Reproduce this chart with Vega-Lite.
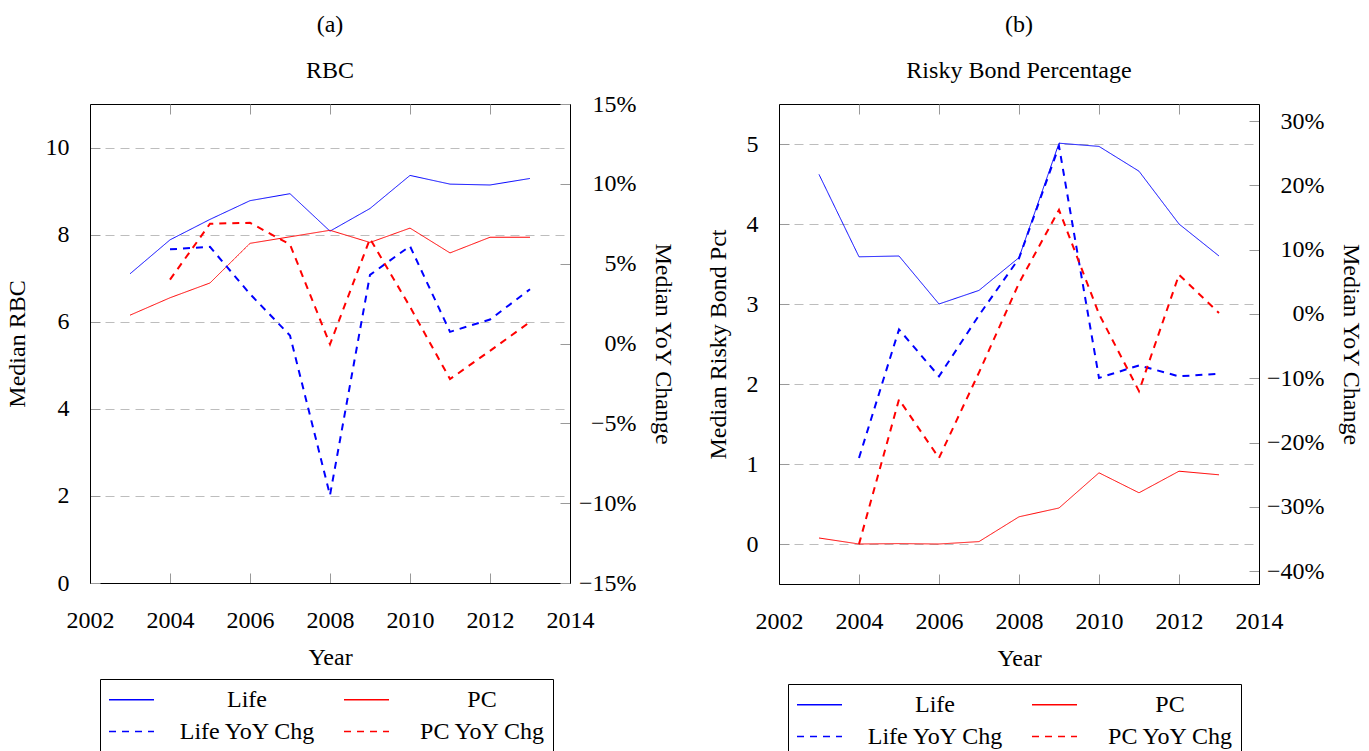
{
  "$schema": "https://vega.github.io/schema/vega-lite/v6.json",
  "padding": {"left": 4, "top": 12, "right": 0, "bottom": 0},
  "spacing": 30,
  "background": "#ffffff",
  "resolve": {"scale": {"color": "independent", "strokeDash": "independent"}, "legend": {"color": "independent", "strokeDash": "independent"}},
  "config": {
    "font": "Liberation Serif",
    "view": {"stroke": "#000000", "strokeWidth": 1},
    "axis": {
      "labelFont": "Liberation Serif", "labelFontSize": 24, "labelColor": "#000000",
      "titleFont": "Liberation Serif", "titleFontSize": 24, "titleFontWeight": "normal", "titleColor": "#000000",
      "domainColor": "#000000", "tickColor": "#999999", "tickSize": -10,
      "grid": false, "gridColor": "#bdbdbd", "gridDash": [9, 6], "labelFlush": false, "labelOverlap": false
    },
    "title": {
      "font": "Liberation Serif", "fontSize": 24, "fontWeight": "normal", "color": "#000000",
      "subtitleFont": "Liberation Serif", "subtitleFontSize": 24, "subtitleColor": "#000000",
      "anchor": "middle", "frame": "group"
    },
    "legend": {
      "labelFont": "Liberation Serif", "labelFontSize": 24, "labelColor": "#000000",
      "symbolType": "M-2,0H2", "symbolSize": 506, "symbolStrokeWidth": 1.6, "symbolOffset": 11,
      "strokeColor": "#000000", "fillColor": "#ffffff", "padding": 8, "rowPadding": 7, "columnPadding": 24,
      "labelAlign": "center", "labelOffset": 103, "labelLimit": 300
    }
  },
  "datasets": {
    "rbc_level": [
      {"year": 2003, "series": "Life", "value": 7.10}, {"year": 2004, "series": "Life", "value": 7.88},
      {"year": 2005, "series": "Life", "value": 8.35}, {"year": 2006, "series": "Life", "value": 8.78},
      {"year": 2007, "series": "Life", "value": 8.94}, {"year": 2008, "series": "Life", "value": 8.08},
      {"year": 2009, "series": "Life", "value": 8.60}, {"year": 2010, "series": "Life", "value": 9.36},
      {"year": 2011, "series": "Life", "value": 9.16}, {"year": 2012, "series": "Life", "value": 9.14},
      {"year": 2013, "series": "Life", "value": 9.29},
      {"year": 2003, "series": "PC", "value": 6.15}, {"year": 2004, "series": "PC", "value": 6.55},
      {"year": 2005, "series": "PC", "value": 6.89}, {"year": 2006, "series": "PC", "value": 7.80},
      {"year": 2007, "series": "PC", "value": 7.95}, {"year": 2008, "series": "PC", "value": 8.10},
      {"year": 2009, "series": "PC", "value": 7.82}, {"year": 2010, "series": "PC", "value": 8.15},
      {"year": 2011, "series": "PC", "value": 7.58}, {"year": 2012, "series": "PC", "value": 7.94},
      {"year": 2013, "series": "PC", "value": 7.94}
    ],
    "rbc_yoy": [
      {"year": 2004, "series": "Life YoY Chg", "value": 0.059}, {"year": 2005, "series": "Life YoY Chg", "value": 0.0605},
      {"year": 2006, "series": "Life YoY Chg", "value": 0.031}, {"year": 2007, "series": "Life YoY Chg", "value": 0.005},
      {"year": 2008, "series": "Life YoY Chg", "value": -0.095}, {"year": 2009, "series": "Life YoY Chg", "value": 0.043},
      {"year": 2010, "series": "Life YoY Chg", "value": 0.061}, {"year": 2011, "series": "Life YoY Chg", "value": 0.0073},
      {"year": 2012, "series": "Life YoY Chg", "value": 0.015}, {"year": 2013, "series": "Life YoY Chg", "value": 0.034},
      {"year": 2004, "series": "PC YoY Chg", "value": 0.040}, {"year": 2005, "series": "PC YoY Chg", "value": 0.075},
      {"year": 2006, "series": "PC YoY Chg", "value": 0.0756}, {"year": 2007, "series": "PC YoY Chg", "value": 0.062},
      {"year": 2008, "series": "PC YoY Chg", "value": -0.0005}, {"year": 2009, "series": "PC YoY Chg", "value": 0.0656},
      {"year": 2010, "series": "PC YoY Chg", "value": 0.023}, {"year": 2011, "series": "PC YoY Chg", "value": -0.0223},
      {"year": 2012, "series": "PC YoY Chg", "value": -0.0046}, {"year": 2013, "series": "PC YoY Chg", "value": 0.0135}
    ],
    "bond_level": [
      {"year": 2003, "series": "Life", "value": 4.62}, {"year": 2004, "series": "Life", "value": 3.59},
      {"year": 2005, "series": "Life", "value": 3.60}, {"year": 2006, "series": "Life", "value": 3.00},
      {"year": 2007, "series": "Life", "value": 3.17}, {"year": 2008, "series": "Life", "value": 3.58},
      {"year": 2009, "series": "Life", "value": 5.01}, {"year": 2010, "series": "Life", "value": 4.97},
      {"year": 2011, "series": "Life", "value": 4.66}, {"year": 2012, "series": "Life", "value": 4.00},
      {"year": 2013, "series": "Life", "value": 3.60},
      {"year": 2003, "series": "PC", "value": 0.075}, {"year": 2004, "series": "PC", "value": 0.0},
      {"year": 2005, "series": "PC", "value": 0.005}, {"year": 2006, "series": "PC", "value": 0.0},
      {"year": 2007, "series": "PC", "value": 0.03}, {"year": 2008, "series": "PC", "value": 0.34},
      {"year": 2009, "series": "PC", "value": 0.45}, {"year": 2010, "series": "PC", "value": 0.89},
      {"year": 2011, "series": "PC", "value": 0.64}, {"year": 2012, "series": "PC", "value": 0.91},
      {"year": 2013, "series": "PC", "value": 0.865}
    ],
    "bond_yoy": [
      {"year": 2004, "series": "Life YoY Chg", "value": -0.224}, {"year": 2005, "series": "Life YoY Chg", "value": -0.024},
      {"year": 2006, "series": "Life YoY Chg", "value": -0.097}, {"year": 2007, "series": "Life YoY Chg", "value": -0.002},
      {"year": 2008, "series": "Life YoY Chg", "value": 0.0866}, {"year": 2009, "series": "Life YoY Chg", "value": 0.261},
      {"year": 2010, "series": "Life YoY Chg", "value": -0.0995}, {"year": 2011, "series": "Life YoY Chg", "value": -0.080},
      {"year": 2012, "series": "Life YoY Chg", "value": -0.097}, {"year": 2013, "series": "Life YoY Chg", "value": -0.093},
      {"year": 2004, "series": "PC YoY Chg", "value": -0.358}, {"year": 2005, "series": "PC YoY Chg", "value": -0.133},
      {"year": 2006, "series": "PC YoY Chg", "value": -0.224}, {"year": 2007, "series": "PC YoY Chg", "value": -0.091},
      {"year": 2008, "series": "PC YoY Chg", "value": 0.048}, {"year": 2009, "series": "PC YoY Chg", "value": 0.162},
      {"year": 2010, "series": "PC YoY Chg", "value": 0.0}, {"year": 2011, "series": "PC YoY Chg", "value": -0.12},
      {"year": 2012, "series": "PC YoY Chg", "value": 0.061}, {"year": 2013, "series": "PC YoY Chg", "value": 0.0015}
    ]
  },
  "hconcat": [
    {
      "title": {"text": "(a)", "subtitle": "RBC", "offset": 9, "subtitlePadding": 22},
      "width": 480, "height": 479,
      "layer": [
        {
          "data": {"name": "rbc_level"},
          "mark": {"type": "line", "strokeWidth": 1},
          "encoding": {
            "x": {"field": "year", "type": "quantitative", "scale": {"domain": [2002, 2014], "nice": false},
                  "axis": {"values": [2002, 2004, 2006, 2008, 2010, 2012, 2014], "format": "d", "title": "Year", "labelFont": "Liberation Serif", "labelPadding": 35, "titlePadding": 13}},
            "y": {"field": "value", "type": "quantitative", "scale": {"domain": [0, 11], "nice": false, "zero": false},
                  "axis": {"values": [0, 2, 4, 6, 8, 10], "title": "Median RBC", "grid": true, "labelFont": "Liberation Serif", "labelPadding": 31, "titlePadding": 16}},
            "color": {"field": "series", "type": "nominal",
                      "scale": {"domain": ["Life", "PC", "Life YoY Chg", "PC YoY Chg"], "range": ["#0000ff", "#ff0000", "#0000ff", "#ff0000"]},
                      "legend": {"title": null, "orient": "none", "legendX": 10, "legendY": 575, "columns": 2, "direction": "horizontal", "labelFont": "Liberation Serif"}},
            "strokeDash": {"field": "series", "type": "nominal",
                      "scale": {"domain": ["Life", "PC", "Life YoY Chg", "PC YoY Chg"], "range": [[1, 0], [1, 0], [7, 6], [7, 6]]},
                      "legend": {"title": null, "orient": "none", "legendX": 10, "legendY": 575, "columns": 2, "direction": "horizontal", "labelFont": "Liberation Serif"}}
          }
        },
        {
          "data": {"name": "rbc_yoy"},
          "mark": {"type": "line", "strokeWidth": 2},
          "encoding": {
            "x": {"field": "year", "type": "quantitative", "scale": {"domain": [2002, 2014], "nice": false},
                  "axis": {"orient": "top", "values": [2002, 2004, 2006, 2008, 2010, 2012, 2014], "labels": false, "title": null, "domain": false}},
            "y": {"field": "value", "type": "quantitative", "scale": {"domain": [-0.15, 0.15], "nice": false, "zero": false},
                  "axis": {"orient": "right", "values": [-0.15, -0.1, -0.05, 0, 0.05, 0.1, 0.15], "format": ".0%", "title": "Median YoY Change", "labelFont": "Liberation Serif", "labelAlign": "right", "labelPadding": 76, "titlePadding": 14}},
            "color": {"field": "series", "type": "nominal",
                      "scale": {"domain": ["Life", "PC", "Life YoY Chg", "PC YoY Chg"], "range": ["#0000ff", "#ff0000", "#0000ff", "#ff0000"]},
                      "legend": {"title": null, "orient": "none", "legendX": 10, "legendY": 575, "columns": 2, "direction": "horizontal", "labelFont": "Liberation Serif"}},
            "strokeDash": {"field": "series", "type": "nominal",
                      "scale": {"domain": ["Life", "PC", "Life YoY Chg", "PC YoY Chg"], "range": [[1, 0], [1, 0], [7, 6], [7, 6]]},
                      "legend": {"title": null, "orient": "none", "legendX": 10, "legendY": 575, "columns": 2, "direction": "horizontal", "labelFont": "Liberation Serif"}}
          }
        }
      ],
      "resolve": {"scale": {"y": "independent"}, "axis": {"x": "independent"}}
    },
    {
      "title": {"text": "(b)", "subtitle": "Risky Bond Percentage", "offset": 21, "subtitlePadding": 22},
      "width": 480, "height": 480,
      "layer": [
        {
          "data": {"name": "bond_level"},
          "mark": {"type": "line", "strokeWidth": 1},
          "encoding": {
            "x": {"field": "year", "type": "quantitative", "scale": {"domain": [2002, 2014], "nice": false},
                  "axis": {"values": [2002, 2004, 2006, 2008, 2010, 2012, 2014], "format": "d", "title": "Year", "labelFont": "Liberation Serif", "labelPadding": 35, "titlePadding": 13}},
            "y": {"field": "value", "type": "quantitative", "scale": {"domain": [-0.5, 5.5], "nice": false, "zero": false},
                  "axis": {"values": [0, 1, 2, 3, 4, 5], "title": "Median Risky Bond Pct", "grid": true, "labelFont": "Liberation Serif", "labelPadding": 31, "titlePadding": 16}},
            "color": {"field": "series", "type": "nominal",
                      "scale": {"domain": ["Life", "PC", "Life YoY Chg", "PC YoY Chg"], "range": ["#0000ff", "#ff0000", "#0000ff", "#ff0000"]},
                      "legend": {"title": null, "orient": "none", "legendX": 9, "legendY": 580, "columns": 2, "direction": "horizontal", "labelFont": "Liberation Serif"}},
            "strokeDash": {"field": "series", "type": "nominal",
                      "scale": {"domain": ["Life", "PC", "Life YoY Chg", "PC YoY Chg"], "range": [[1, 0], [1, 0], [7, 6], [7, 6]]},
                      "legend": {"title": null, "orient": "none", "legendX": 9, "legendY": 580, "columns": 2, "direction": "horizontal", "labelFont": "Liberation Serif"}}
          }
        },
        {
          "data": {"name": "bond_yoy"},
          "mark": {"type": "line", "strokeWidth": 2},
          "encoding": {
            "x": {"field": "year", "type": "quantitative", "scale": {"domain": [2002, 2014], "nice": false},
                  "axis": {"orient": "top", "values": [2002, 2004, 2006, 2008, 2010, 2012, 2014], "labels": false, "title": null, "domain": false}},
            "y": {"field": "value", "type": "quantitative", "scale": {"domain": [-0.42, 0.3266], "nice": false, "zero": false},
                  "axis": {"orient": "right", "values": [-0.4, -0.3, -0.2, -0.1, 0, 0.1, 0.2, 0.3], "format": ".0%", "title": "Median YoY Change", "labelFont": "Liberation Serif", "labelAlign": "right", "labelPadding": 75, "titlePadding": 14}},
            "color": {"field": "series", "type": "nominal",
                      "scale": {"domain": ["Life", "PC", "Life YoY Chg", "PC YoY Chg"], "range": ["#0000ff", "#ff0000", "#0000ff", "#ff0000"]},
                      "legend": {"title": null, "orient": "none", "legendX": 9, "legendY": 580, "columns": 2, "direction": "horizontal", "labelFont": "Liberation Serif"}},
            "strokeDash": {"field": "series", "type": "nominal",
                      "scale": {"domain": ["Life", "PC", "Life YoY Chg", "PC YoY Chg"], "range": [[1, 0], [1, 0], [7, 6], [7, 6]]},
                      "legend": {"title": null, "orient": "none", "legendX": 9, "legendY": 580, "columns": 2, "direction": "horizontal", "labelFont": "Liberation Serif"}}
          }
        }
      ],
      "resolve": {"scale": {"y": "independent"}, "axis": {"x": "independent"}}
    }
  ]
}
